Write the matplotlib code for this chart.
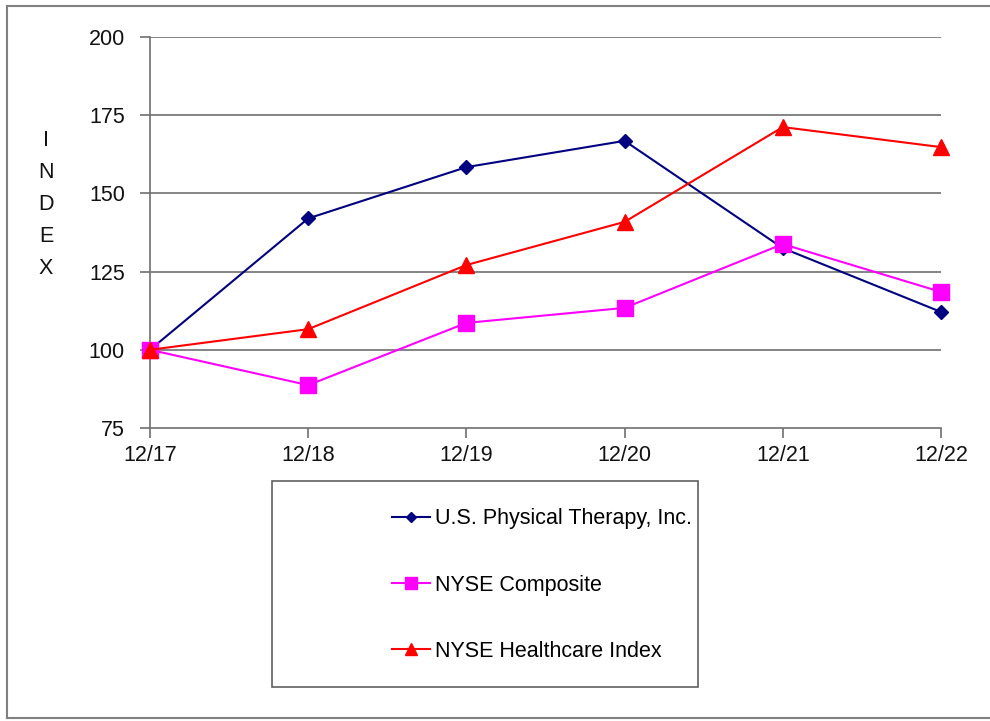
import matplotlib
matplotlib.use("Agg")
import matplotlib.pyplot as plt
from matplotlib.lines import Line2D
from matplotlib.patches import Rectangle

plt.rcParams['font.family'] = ['Liberation Sans', 'DejaVu Sans']

years = ["12/17", "12/18", "12/19", "12/20", "12/21", "12/22"]
usph = [100, 142.0, 158.4, 166.8, 132.5, 112.1]
nyse_comp = [100, 88.7, 108.6, 113.4, 133.8, 118.5]
nyse_health = [100, 106.6, 127.1, 140.9, 171.2, 164.8]
labels = ["U.S. Physical Therapy, Inc.", "NYSE Composite", "NYSE Healthcare Index"]
yticks = [75, 100, 125, 150, 175, 200]

FS = 15.5
W, H = 990, 721
fig = plt.figure(figsize=(W / 100, H / 100), dpi=100)
ax = fig.add_axes([150 / W, 1 - 428 / H, 791 / W, 391 / H])

x = list(range(len(years)))
l1, = ax.plot(x, usph, color='#000080', marker='D', markersize=7, linewidth=1.5, label=labels[0], zorder=3)
l2, = ax.plot(x, nyse_comp, color='#FF00FF', marker='s', markersize=11, linewidth=1.5, label=labels[1], zorder=4)
l3, = ax.plot(x, nyse_health, color='#FF0000', marker='^', markersize=11, linewidth=1.5, label=labels[2], zorder=5)

ax.set_xlim(0, len(years) - 1)
ax.set_ylim(75, 200)
ax.set_yticks(yticks)
ax.set_xticks(x)
ax.set_xticklabels(years)
for y in yticks[1:]:
    ax.axhline(y, color='#707070', linewidth=1.2, zorder=1)
for s in ['top', 'right']:
    ax.spines[s].set_visible(False)
for s in ['left', 'bottom']:
    ax.spines[s].set_color('#707070')
    ax.spines[s].set_linewidth(1.2)
ax.spines['left'].set_zorder(2)
ax.tick_params(axis='both', direction='out', length=7, color='#707070', width=1.2,
               labelsize=FS, labelcolor='#111111')
ax.tick_params(axis='y', pad=11)
ax.tick_params(axis='x', pad=5)
for l in (l1, l2, l3):
    l.set_clip_on(False)

# vertical "INDEX" label
for i, ch in enumerate("INDEX"):
    fig.text(46 / W, 1 - (140 + i * 32) / H, ch, ha='center', va='center', fontsize=FS, color='#111111')

# legend box
fig.patches.append(Rectangle((272 / W, 1 - 687 / H), (698 - 272) / W, (687 - 481) / H,
                             transform=fig.transFigure, fill=False, edgecolor='#606060', linewidth=1.2))
fig.legend(handles=[l1, l2, l3], loc='center left', bbox_to_anchor=(392 / W, 1 - 585 / H),
           frameon=False, fontsize=FS, handlelength=1.75, handletextpad=0.25, labelspacing=2.1,
           borderpad=0, borderaxespad=0, markerscale=0.75)

# outer frame
fig.add_artist(Line2D([7 / W, 7 / W], [1 - 718 / H, 1 - 6 / H], transform=fig.transFigure, color='#808080', linewidth=1.5))
fig.add_artist(Line2D([7 / W, 1.0], [1 - 6 / H, 1 - 6 / H], transform=fig.transFigure, color='#808080', linewidth=1.5))
fig.add_artist(Line2D([7 / W, 1.0], [1 - 718 / H, 1 - 718 / H], transform=fig.transFigure, color='#808080', linewidth=1.5))

fig.savefig("out.png", dpi=100)
